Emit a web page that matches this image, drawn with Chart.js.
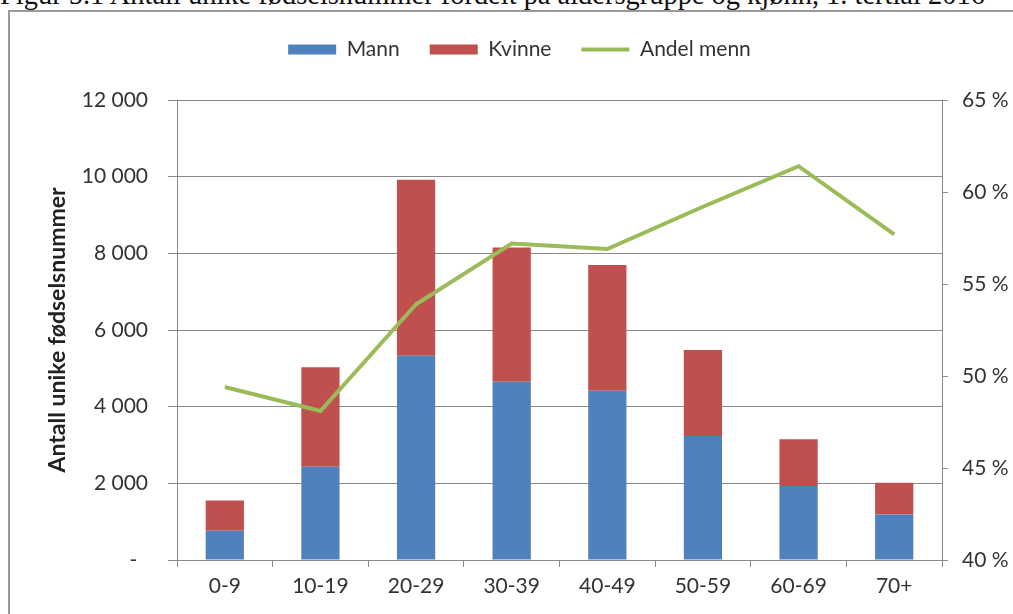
<!DOCTYPE html>
<html>
<head>
<meta charset="utf-8">
<script src="https://cdn.jsdelivr.net/npm/chart.js@4/dist/chart.umd.min.js"></script>
<style>
  html, body { margin: 0; padding: 0; background: #fff; overflow: hidden; }
  #wrap { position: relative; width: 1013px; height: 614px; overflow: hidden; }
  #caption {
    position: absolute; left: 0; top: -17px; white-space: nowrap;
    font-family: "Liberation Serif", "DejaVu Serif", serif; font-size: 24px; line-height: 24px; color: #111;
  }
  #frame { position: absolute; left: 8px; top: 10px; width: 1100px; height: 700px; border: 2px solid #9a9a9a; }
  #chart { position: absolute; left: 0; top: 0; }
</style>
</head>
<body>
<div id="wrap">
  <div id="caption">Figur 5.1 Antall unike fødselsnummer fordelt på aldersgruppe og kjønn, 1. tertial 2016</div>
  <div id="frame"></div>
  <canvas id="chart" width="1013" height="614"></canvas>
</div>
<script>
const ageGroups = ['0-9', '10-19', '20-29', '30-39', '40-49', '50-59', '60-69', '70+'];
const mann = [760, 2435, 5330, 4650, 4415, 3235, 1930, 1190];
const kvinne = [790, 2595, 4590, 3505, 3280, 2245, 1220, 825];
const andelMenn = [49.4, 48.1, 53.9, 57.2, 56.9, 59.2, 61.4, 57.7];
const leftTicks = [0, 2000, 4000, 6000, 8000, 10000, 12000];
const rightTicks = [40, 45, 50, 55, 60, 65];

const gridGrey = '#8a8a8a';
const txt = '#333333';
const font = { family: 'Lato', size: 21 };

// stretch the caption so it ends where the scanned one does
const cap = document.getElementById('caption');
cap.style.fontSize = (24 * 985 / cap.scrollWidth) + 'px';

const fmtThousands = v => v === 0 ? '-  ' : String(v).replace(/\B(?=(\d{3})+(?!\d))/g, ' ');

// extra room between the legend and the plot
const legendGap = {
  id: 'legendGap',
  beforeInit(chart) {
    const fit = chart.legend.fit.bind(chart.legend);
    chart.legend.fit = function () { fit(); this.height += 30; };
  }
};

new Chart(document.getElementById('chart'), {
  type: 'bar',
  data: {
    labels: ageGroups,
    datasets: [
      { label: 'Mann', data: mann, backgroundColor: '#4F81BD', borderWidth: 0,
        barPercentage: 0.4, categoryPercentage: 1, yAxisID: 'y', order: 1, pointStyle: 'rect' },
      { label: 'Kvinne', data: kvinne, backgroundColor: '#C0504D', borderWidth: 0,
        barPercentage: 0.4, categoryPercentage: 1, yAxisID: 'y', order: 1, pointStyle: 'rect' },
      { type: 'line', label: 'Andel menn', data: andelMenn, borderColor: '#9BBB59', backgroundColor: '#9BBB59',
        borderWidth: 4, pointRadius: 0, tension: 0, yAxisID: 'y1', order: 0, pointStyle: 'line' }
    ]
  },
  plugins: [legendGap],
  options: {
    responsive: false,
    animation: false,
    devicePixelRatio: 1,
    layout: { padding: { top: 9, left: 26, right: 0, bottom: 0 } },
    plugins: {
      legend: {
        position: 'top',
        labels: {
          usePointStyle: true, pointStyleWidth: 48, boxHeight: 10, padding: 30,
          color: txt, font: font,
          sort: (a, b) => a.datasetIndex - b.datasetIndex
        }
      },
      tooltip: { enabled: false }
    },
    scales: {
      x: {
        stacked: true,
        grid: { offset: true, drawOnChartArea: false, drawTicks: true, tickLength: 7, color: gridGrey },
        border: { color: gridGrey },
        ticks: { color: txt, font: font, padding: 7, maxRotation: 0 },
        afterFit: s => { s.height = 54; }
      },
      y: {
        stacked: true,
        position: 'left',
        min: 0, max: 12000,
        afterBuildTicks: s => { s.ticks = leftTicks.map(v => ({ value: v })); },
        grid: { color: gridGrey, tickLength: 9 },
        border: { color: gridGrey },
        ticks: { color: txt, font: font, padding: 20, callback: v => fmtThousands(v) },
        title: { display: true, text: 'Antall unike fødselsnummer', color: '#222',
                 font: { family: 'Lato', size: 23, weight: 'bold' }, padding: { top: 18, bottom: 0 } },
        afterFit: s => { s.width = 151; }
      },
      y1: {
        position: 'right',
        min: 40, max: 65,
        afterBuildTicks: s => { s.ticks = rightTicks.map(v => ({ value: v })); },
        grid: { drawOnChartArea: false, tickLength: 6, color: gridGrey },
        border: { color: gridGrey },
        ticks: { color: txt, font: font, padding: 14, callback: v => v + ' %' },
        afterFit: s => { s.width = 71; }
      }
    }
  }
});
</script>
</body>
</html>
